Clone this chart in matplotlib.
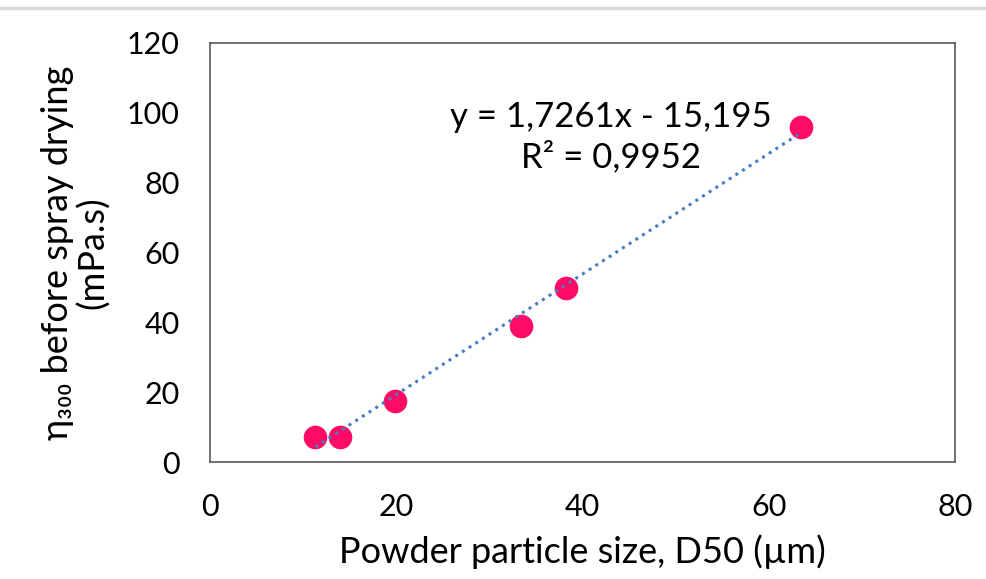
import matplotlib
matplotlib.use("Agg")
import matplotlib.pyplot as plt
from matplotlib.lines import Line2D

plt.rcParams['font.family'] = ['Lato', 'DejaVu Sans']

# data
d50 = [11.3, 13.9, 19.8, 33.4, 38.2, 63.4]
eta300 = [7.3, 7.3, 17.4, 39.0, 49.7, 95.8]
slope = 1.7261
intercept = -15.195
xticks = [0, 20, 40, 60, 80]
yticks = [0, 20, 40, 60, 80, 100, 120]

fig = plt.figure(figsize=(9.86, 5.79), dpi=100)
ax = fig.add_axes([0.213, 0.202, 0.756, 0.724])

# trend line across the data range
x0, x1 = min(d50), max(d50)
ax.plot([x0, x1], [slope * x0 + intercept, slope * x1 + intercept],
        linestyle=(0, (1, 1.6)), color="#4a7cc4", linewidth=2.2, zorder=3)
ax.plot(d50, eta300, "o", color="#ff0a64", markersize=16, zorder=2)

ax.text(43, 93, "y = 1,7261x - 15,195\nR² = 0,9952", ha="center", va="center",
        fontsize=25, linespacing=1.25)

ax.set_xlim(0, 80)
ax.set_ylim(0, 120)
ax.set_xticks(xticks)
ax.set_yticks(yticks)
ax.tick_params(length=0, labelsize=22)
ax.tick_params(axis="x", pad=22)
ax.tick_params(axis="y", pad=22)
for s in ax.spines.values():
    s.set_color("#595959")
    s.set_linewidth(1.2)

ax.set_xlabel("Powder particle size, D50 (µm)", fontsize=26, labelpad=10)
ax.set_ylabel("η₃₀₀ before spray drying\n(mPa.s)", fontsize=26, labelpad=12,
              linespacing=1.05)

# gray strip across the top of the screenshot
fig.add_artist(Line2D([0, 1], [0.986, 0.986], color="#d9d9d9", linewidth=2.5,
                      transform=fig.transFigure))

fig.savefig("out.png", dpi=100)
